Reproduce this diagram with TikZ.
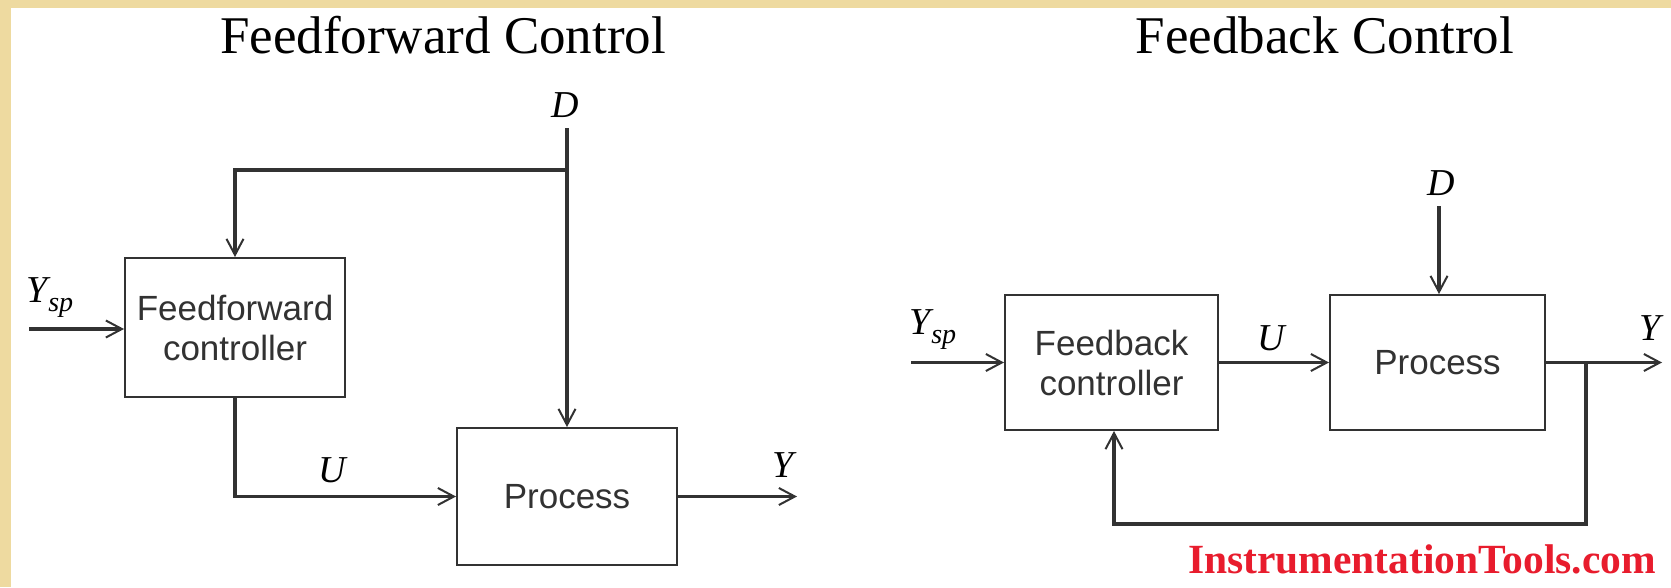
\documentclass[tikz,border=0pt]{standalone}
\usepackage{fontspec}
\setmainfont{Liberation Serif}
\newfontfamily\boxfont{Liberation Sans}
\usetikzlibrary{arrows.meta}
\definecolor{bgyellow}{RGB}{238,218,160}
\definecolor{ink}{RGB}{50,50,50}
\definecolor{wmred}{RGB}{232,28,45}
\begin{document}
\begin{tikzpicture}[x=1pt,y=-1pt,
  blk/.style={draw=ink, line width=2pt, inner sep=0pt, text=ink, align=center,
    font=\boxfont\fontsize{35}{40}\selectfont},
  conn/.style={draw=ink, line width=3.4pt},
  arr/.style={conn, -{Straight Barb[length=16pt,width=17pt,line width=2pt]}},
  lbl/.style={inner sep=0pt, anchor=base, font=\fontsize{38}{40}\selectfont\itshape},
  ttl/.style={inner sep=0pt, anchor=base, font=\fontsize{53}{56}\selectfont}]
\useasboundingbox (0,0) rectangle (1671,587);
\fill[bgyellow] (0,0) rectangle (1671,587);
\fill[white] (11,8) rectangle (1671,587);

% titles
\node[ttl] (t1) at (443,53) {Feedforward Control};
\node[ttl] (t2) at (1325,53) {Feedback Control};

% ---------- Feedforward ----------
\node[blk, minimum width=220pt, minimum height=139pt] (ffc) at (235,327.5) {Feedforward\\controller};
\node[blk, minimum width=220pt, minimum height=137pt] (proc1) at (567,496.5) {Process};
\coordinate (ysp1) at (29,329);
\coordinate (d1) at (567,128);
\coordinate (br1) at (567,170);
\coordinate (y1) at (797,496.5);
\node[lbl, anchor=base west] (lysp1) at (26,302) {Y\kern1pt\raisebox{-9pt}{\fontsize{28}{28}\selectfont sp}};
\node[lbl] (ld1) at (565,117) {D};
\node[lbl] (lu1) at (332,482) {U};
\node[lbl] (ly1) at (783,477) {Y};
\draw[arr] (ysp1) -- (ysp1 -| ffc.west);
\draw[arr] (d1) -- (proc1.north -| d1);
\draw[arr] (br1) -| (ffc.north);
\draw[arr] (ffc.south) |- (proc1.west);
\draw[arr] (proc1.east) -- (y1);

% ---------- Feedback ----------
\node[blk, minimum width=213pt, minimum height=135pt] (fbc) at (1111.5,362.5) {Feedback\\controller};
\node[blk, minimum width=215pt, minimum height=135pt] (proc2) at (1437.5,362.5) {Process};
\coordinate (ysp2) at (911,362.5);
\coordinate (d2) at (1439,206);
\coordinate (y2) at (1662,362.5);
\coordinate (fb) at (1586,362.5);
\coordinate (fbl) at (1586,524);
\node[lbl, anchor=base west] (lysp2) at (909,334) {Y\kern1pt\raisebox{-9pt}{\fontsize{28}{28}\selectfont sp}};
\node[lbl] (ld2) at (1441,195) {D};
\node[lbl] (lu2) at (1271,350) {U};
\node[lbl] (ly2) at (1650,340) {Y};
\draw[arr] (ysp2) -- (fbc.west);
\draw[arr] (fbc.east) -- (proc2.west);
\draw[arr] (d2) -- (proc2.north -| d2);
\draw[arr] (proc2.east) -- (y2);
\draw[arr] (fb) -- (fbl) -| ([xshift=2.5pt]fbc.south);

% watermark
\node[inner sep=0pt, anchor=base west, text=wmred, font=\fontsize{41.5}{44}\selectfont\bfseries] (wm) at (1188,573) {InstrumentationTools.com};
\end{tikzpicture}
\end{document}
